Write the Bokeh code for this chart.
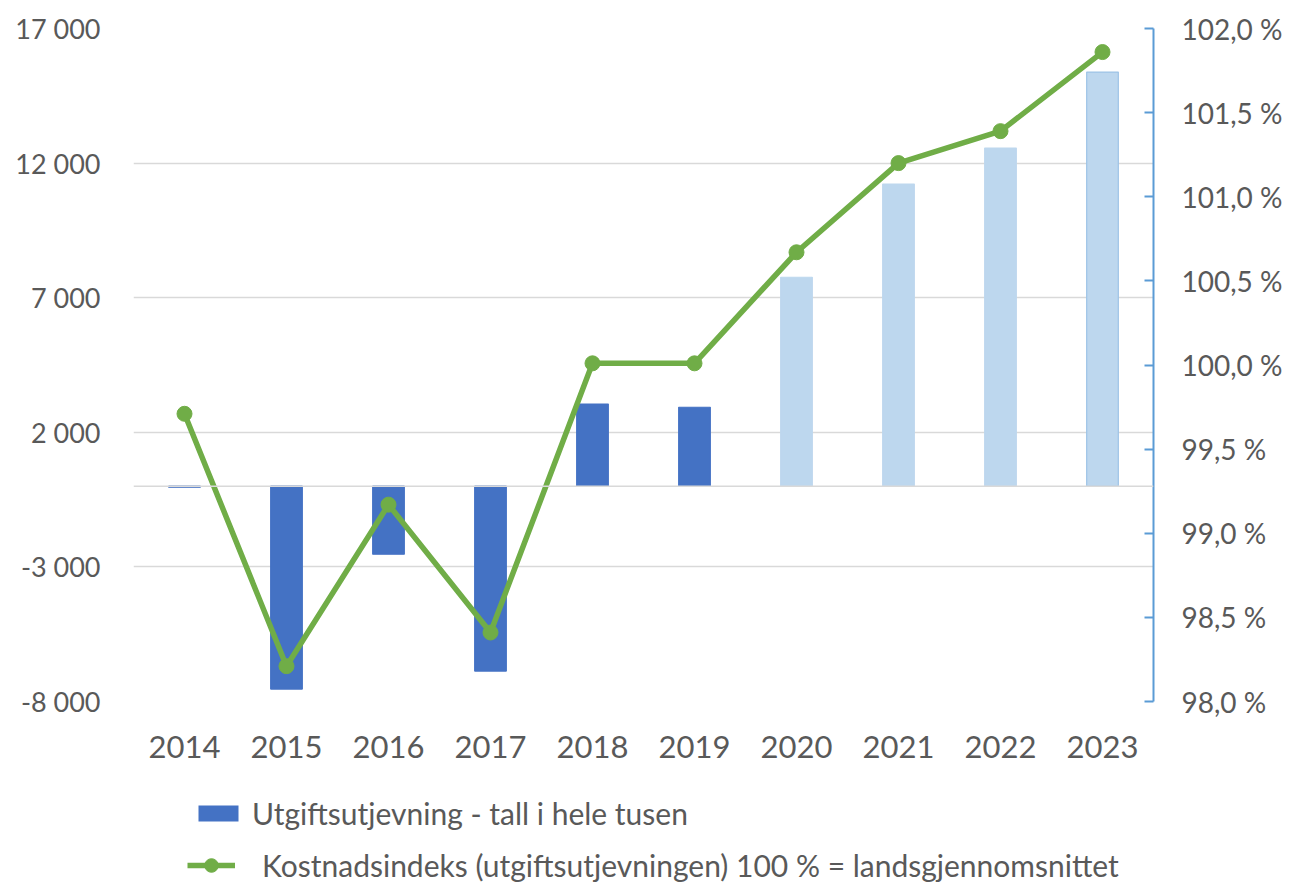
from bokeh.plotting import figure
from bokeh.layouts import column
from bokeh.models import (ColumnDataSource, FactorRange, Range1d, LinearAxis, FixedTicker,
                          Span, Legend, LegendItem)
from bokeh.embed import file_html
from bokeh.resources import INLINE

years = ["2014", "2015", "2016", "2017", "2018", "2019", "2020", "2021", "2022", "2023"]
utjevning = [-40, -7540, -2530, -6870, 3050, 2930, 7760, 11220, 12560, 15380]
indeks = [99.71, 98.21, 99.17, 98.41, 100.01, 100.01, 100.67, 101.20, 101.39, 101.86]
left_ticks = [-8000, -3000, 2000, 7000, 12000, 17000]
left_labels = ["-8 000", "-3 000", "2 000", "7 000", "12 000", "17 000"]
right_ticks = [98.0, 98.5, 99.0, 99.5, 100.0, 100.5, 101.0, 101.5, 102.0]
right_labels = ["98,0 %", "98,5 %", "99,0 %", "99,5 %", "100,0 %", "100,5 %", "101,0 %", "101,5 %", "102,0 %"]
bar_label = "Utgiftsutjevning - tall i hele tusen"
line_label = "Kostnadsindeks (utgiftsutjevningen) 100 % = landsgjennomsnittet"

FONT = "Lato"
TXT = "#595959"
DARK = "#4472C4"
LIGHT = "#BDD7EE"
GREEN = "#70AD47"

fills = [DARK if int(y) <= 2019 else LIGHT for y in years]
lines = [c for c in fills]
lines[-1] = "#9DC3E6"

src = ColumnDataSource(dict(year=years, val=utjevning, fill=fills, line=lines))

p = figure(x_range=FactorRange(*years), y_range=Range1d(-8000, 17000),
           width=1294, height=780, output_backend="svg", toolbar_location=None,
           min_border_left=133, min_border_right=141, min_border_top=28,
           min_border_bottom=79, outline_line_color=None)
p.extra_y_ranges = {"pct": Range1d(98, 102)}

# left axis
ya = p.yaxis[0]
ya.ticker = FixedTicker(ticks=left_ticks)
ya.major_label_overrides = {t: l for t, l in zip(left_ticks, left_labels)}
ya.axis_line_color = None
ya.major_tick_line_color = None
ya.minor_tick_line_color = None
ya.major_label_text_font = FONT
ya.major_label_text_font_size = "27px"
ya.major_label_text_color = TXT
ya.major_label_standoff = 27

p.ygrid.ticker = FixedTicker(ticks=left_ticks)
p.ygrid.grid_line_color = "#D9D9D9"
p.ygrid.grid_line_width = 1.5
p.xgrid.grid_line_color = None

xa = p.xaxis[0]
xa.axis_line_color = None
xa.major_tick_line_color = None
xa.minor_tick_line_color = None
xa.major_label_text_font = FONT
xa.major_label_text_font_size = "31px"
xa.major_label_text_color = TXT
xa.major_label_standoff = 28

ra = LinearAxis(y_range_name="pct", ticker=FixedTicker(ticks=right_ticks))
ra.major_label_overrides = {t: l for t, l in zip(right_ticks, right_labels)}
ra.axis_line_color = "#5B9BD5"
ra.axis_line_width = 2
ra.major_tick_line_color = "#5B9BD5"
ra.major_tick_line_width = 2
ra.major_tick_in = 9
ra.major_tick_out = 0
ra.minor_tick_line_color = None
ra.major_label_text_font = FONT
ra.major_label_text_font_size = "28px"
ra.major_label_text_color = TXT
ra.major_label_standoff = 28
p.add_layout(ra, "right")

p.add_layout(Span(location=0, dimension="width", line_color="#D9D9D9", line_width=1.5))

bars = p.vbar(x="year", top="val", width=0.31, fill_color="fill", line_color="line",
              line_width=1.2, source=src)
ln = p.line(years, indeks, y_range_name="pct", line_color=GREEN, line_width=5.5)
pts = p.scatter(years, indeks, y_range_name="pct", size=15, fill_color=GREEN, line_color=GREEN)

# legend strip below the chart (its proxy renderers fall outside its own ranges)
lg = figure(width=1294, height=105, output_backend="svg", toolbar_location=None,
            x_range=FactorRange(*years), y_range=Range1d(50000, 60000),
            min_border_left=133, min_border_right=141, min_border_top=0, min_border_bottom=0,
            outline_line_color=None)
lg.axis.visible = False
lg.grid.grid_line_color = None
lb = lg.vbar(x=years, top=utjevning, width=0.31, fill_color=DARK, line_color=None)
ll = lg.line(years, indeks, line_color=GREEN, line_width=5.5)
ls = lg.scatter(years, indeks, size=15, fill_color=GREEN, line_color=GREEN)

common = dict(orientation="vertical", border_line_color=None, background_fill_alpha=0,
              label_text_font=FONT, label_text_font_size="30px", label_text_color=TXT,
              padding=0, margin=0)
leg1 = Legend(items=[LegendItem(label=bar_label, renderers=[lb], index=0)],
              location=(60, 54), glyph_width=50, glyph_height=20, label_standoff=9, **common)
leg2 = Legend(items=[LegendItem(label=line_label, renderers=[ll, ls], index=0)],
              location=(54, 2), glyph_width=48, glyph_height=34, label_standoff=27, **common)
lg.add_layout(leg1, "center")
lg.add_layout(leg2, "center")

open("out.html", "w").write(file_html(column(p, lg, spacing=0), INLINE))
